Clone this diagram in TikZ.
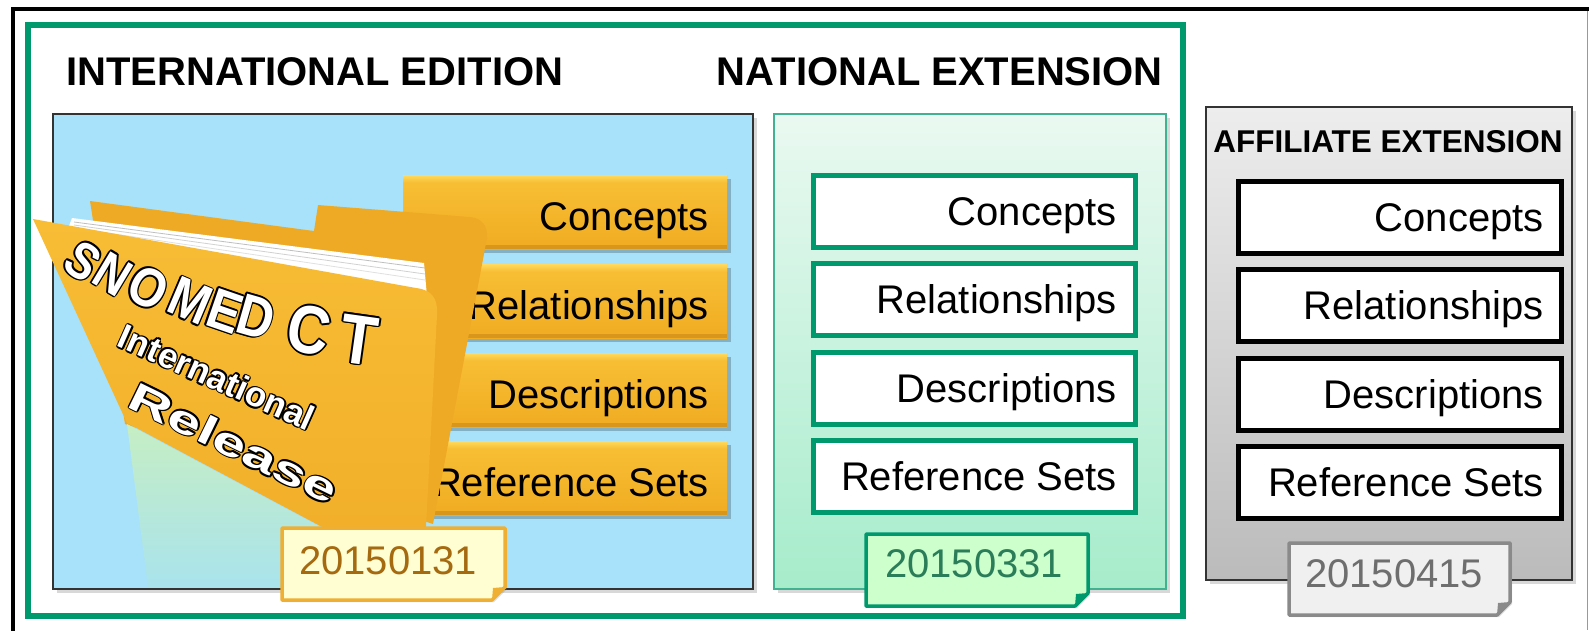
\documentclass[tikz,border=0pt]{standalone}
\usepackage{fontspec}
\setmainfont{Liberation Sans}
\usetikzlibrary{shadows}
\definecolor{frameGreen}{HTML}{00996E}
\definecolor{blueBg}{HTML}{A8E2FA}
\definecolor{barTop}{HTML}{F8C036}
\definecolor{barBot}{HTML}{F0AC22}
\definecolor{barHi}{HTML}{FFDA5E}
\definecolor{barDk}{HTML}{D8961C}
\definecolor{fldFrontT}{HTML}{F8BC35}
\definecolor{fldFrontB}{HTML}{F2B02A}
\definecolor{fldBack}{HTML}{EEAA24}
\definecolor{reflTop}{HTML}{C6EEC4}
\definecolor{reflBot}{HTML}{A9E3EC}
\definecolor{natTop}{HTML}{EAF9F1}
\definecolor{natBot}{HTML}{A6ECCB}
\definecolor{affTop}{HTML}{EDEDED}
\definecolor{affBot}{HTML}{BBBBBB}
\definecolor{tagAfill}{HTML}{FFFDD2}
\definecolor{tagAdraw}{HTML}{EFAF32}
\definecolor{tagAtext}{HTML}{A5690F}
\definecolor{tagBfill}{HTML}{CCFFCC}
\definecolor{tagBtext}{HTML}{2A7D58}
\definecolor{tagCfill}{HTML}{F0F0F0}
\definecolor{tagCdraw}{HTML}{8A8A8A}
\definecolor{tagCtext}{HTML}{6E6E6E}

% white text with a black outline, made of offset black copies
\newcommand{\fldletter}[4]{%
  \foreach \dx/\dy in {-1.6/0,1.6/0,0/-1.6,0/1.6,-1.15/-1.15,1.15/1.15,-1.15/1.15,1.15/-1.15}
    {\node[inner sep=0pt, text=black, rotate=#3, xshift=\dx pt, yshift=\dy pt] at (#1,#2) {#4};}
  \node[inner sep=0pt, text=white, rotate=#3] at (#1,#2) {#4};}
\newcommand{\snl}[2]{\fontsize{#1}{#1}\selectfont\bfseries\scalebox{0.86}[1]{#2}}
\newcommand{\datetag}[6]{%
  \filldraw[fill=#5, draw=#6, line width=3.5pt, line join=round,
    drop shadow={shadow xshift=2pt, shadow yshift=-2pt, opacity=0.25}]
    (#1,#2) -- (#3,#2) -- (#3,#4-13) -- (#3-13,#4) -- (#1,#4) -- cycle;
  \fill[#6] (#3,#4-13) -- (#3-13,#4) -- (#3-12,#4-12) -- cycle;}

\tikzset{
  ttl/.style={font=\fontsize{40}{48}\selectfont\bfseries, inner sep=0pt},
  item/.style={font=\fontsize{40}{48}\selectfont, inner sep=0pt},
  datetxt/.style={font=\fontsize{40}{48}\selectfont, inner sep=0pt, anchor=base west},
}

\begin{document}
\begin{tikzpicture}[x=1pt,y=-1pt]
\useasboundingbox (0,0) rectangle (1589,630);
\fill[white] (0,0) rectangle (1589,630);

% outer frames
\draw[black, line width=4pt] (13,640) -- (13,9) -- (1600,9);
\draw[black!40, line width=1pt] (1587,11) -- (1587,630);
\draw[frameGreen, line width=6pt] (28,25) rectangle (1183,616);

% titles
\node[ttl, anchor=base west] (tIntl) at (66,85) {INTERNATIONAL EDITION};
\node[ttl, anchor=base east] (tNat) at (1163,85) {NATIONAL EXTENSION};

% international edition box
\filldraw[fill=blueBg, draw=black!80, line width=1.5pt,
  drop shadow={shadow xshift=4pt, shadow yshift=-4pt, opacity=0.3}]
  (53,114) rectangle (753,589);

\foreach \ty/\lab/\nm in {175/Concepts/bC, 264/Relationships/bR, 353/Descriptions/bD, 441/Reference Sets/bS}{
  \fill[black, opacity=0.22] (406,\ty+4) rectangle (731,\ty+78);
  \shade[top color=barTop, bottom color=barBot] (403,\ty) rectangle (727,\ty+74);
  \shade[top color=barHi, bottom color=barTop] (403,\ty) rectangle (727,\ty+7);
  \fill[barDk] (403,\ty+70) rectangle (727,\ty+74);
  \node[item, anchor=base east] (\nm) at (709,\ty+55) {\lab};
}

% folder
\fill[fldBack] (90,201) -- (314,231) -- (318,205) -- (470,217)
  .. controls (482,218) and (488,226) .. (487,238) -- (433,524) -- (125,424) -- cycle;
\fill[white] (72,218) -- (424,263) -- (430,330) -- (60,250) -- cycle;
\draw[black!25, line width=0.8pt] (74,222) -- (425,268);
\draw[black!18, line width=0.8pt] (74,225) -- (425,274);
\draw[black!12, line width=0.8pt] (74,228) -- (425,280);
\shade[top color=fldFrontT, bottom color=fldFrontB]
  (33,219) -- (416,288) .. controls (432,290) and (438,298) .. (437,315)
  -- (426,527) -- (322,527) -- (127,423) -- cycle;
\shade[top color=reflTop, bottom color=reflBot]
  (127,424) -- (322,528) -- (300,587) -- (148,587) -- cycle;

\fldletter{83}{261}{-35}{\snl{52}{S}}
\fldletter{113}{274}{-31}{\snl{53}{N}}
\fldletter{148}{288}{-27}{\snl{55}{O}}
\fldletter{190}{301}{-23}{\snl{56}{M}}
\fldletter{225}{311}{-19}{\snl{57}{E}}
\fldletter{256}{317}{-16}{\snl{58}{D}}
\fldletter{309}{330}{-12}{\snl{68}{C}}
\fldletter{359}{340}{-8}{\snl{70}{T}}
\fldletter{217}{377}{-24}{\fontsize{35}{40}\selectfont\bfseries International}
\fldletter{234}{443}{-26}{\fontsize{40}{44}\selectfont\bfseries\scalebox{1.5}[1]{Release}}

\datetag{282}{528}{505}{600}{tagAfill}{tagAdraw}
\node[datetxt, text=tagAtext] (dA) at (299,574) {20150131};

% national extension box
\draw[top color=natTop, bottom color=natBot, draw=frameGreen!75, line width=1.5pt,
  drop shadow={shadow xshift=4pt, shadow yshift=-4pt, opacity=0.3}]
  (774,114) rectangle (1166,589);
\foreach \ty/\lab/\nm in {173/Concepts/nC, 261/Relationships/nR, 350/Descriptions/nD, 438/Reference Sets/nS}{
  \draw[draw=frameGreen, fill=white, line width=5pt] (813.5,\ty+2.5) rectangle (1135.5,\ty+74.5);
  \node[item, anchor=base east] (\nm) at (1117,\ty+52) {\lab};
}
\datetag{866}{534}{1088}{606}{tagBfill}{frameGreen}
\node[datetxt, text=tagBtext] (dB) at (885,577) {20150331};

% affiliate extension box
\draw[top color=affTop, bottom color=affBot, draw=black!80, line width=1.5pt,
  drop shadow={shadow xshift=4pt, shadow yshift=-4pt, opacity=0.3}]
  (1206,107) rectangle (1572,580);
\node[inner sep=0pt, anchor=base, font=\fontsize{31.5}{36}\selectfont\bfseries] (tAff) at (1388,152) {AFFILIATE EXTENSION};
\foreach \ty/\lab/\nm in {179/Concepts/aC, 267/Relationships/aR, 356/Descriptions/aD, 444/Reference Sets/aS}{
  \draw[draw=black, fill=white, line width=5pt] (1238.5,\ty+2.5) rectangle (1561.5,\ty+74.5);
  \node[item, anchor=base east] (\nm) at (1544,\ty+52) {\lab};
}
\datetag{1289}{543}{1510}{615}{tagCfill}{tagCdraw}
\node[datetxt, text=tagCtext] (dC) at (1305,587) {20150415};
\end{tikzpicture}
\end{document}
